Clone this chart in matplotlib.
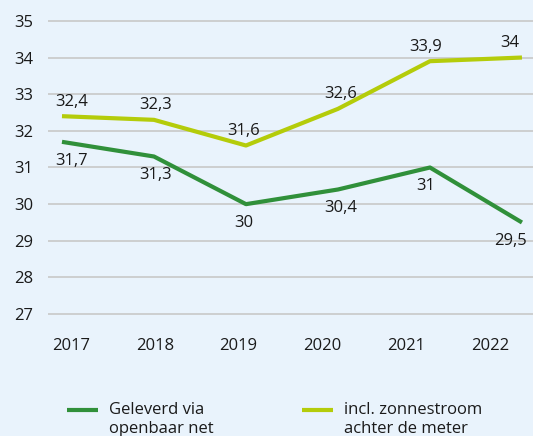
import matplotlib
matplotlib.use("Agg")
import matplotlib.pyplot as plt
from matplotlib.legend_handler import HandlerLine2D

years = [2017, 2018, 2019, 2020, 2021, 2022]
geleverd = [31.7, 31.3, 30.0, 30.4, 31.0, 29.5]
incl_zon = [32.4, 32.3, 31.6, 32.6, 33.9, 34.0]
geleverd_labels = ["31,7", "31,3", "30", "30,4", "31", "29,5"]
incl_labels = ["32,4", "32,3", "31,6", "32,6", "33,9", "34"]
yticks = [27, 28, 29, 30, 31, 32, 33, 34, 35]
series_names = ["Geleverd via\nopenbaar net", "incl. zonnestroom\nachter de meter"]

plt.rcParams['font.family'] = ['Open Sans', 'DejaVu Sans']
bg = '#e9f3fc'
c_green = '#30903a'
c_lime = '#b4cc0a'
txt = '#1a1a1a'
FS = 12

# horizontal label nudges (points) for the value labels
label_dx = [7, 1, -1.5, 2, -3, -8.5]


class TopLineHandler(HandlerLine2D):
    """Legend line aligned with the first text line."""
    def create_artists(self, legend, orig_handle, xdescent, ydescent,
                       width, height, fontsize, trans):
        arts = super().create_artists(legend, orig_handle, xdescent, ydescent,
                                      width, height, fontsize, trans)
        for a in arts:
            a.set_ydata([y + fontsize * 0.58 for y in a.get_ydata()])
        return arts


fig = plt.figure(figsize=(5.33, 4.36), dpi=100, facecolor=bg)
rect = [48/533, 116/436, 485/533, 305/436]
ax = fig.add_axes(rect, facecolor=bg)

l1, = ax.plot(years, geleverd, color=c_green, lw=3, solid_capstyle='butt', zorder=3)
l2, = ax.plot(years, incl_zon, color=c_lime, lw=3, solid_capstyle='butt', zorder=3)

for i, (x, y, t) in enumerate(zip(years, geleverd, geleverd_labels)):
    ax.annotate(t, (x, y), xytext=(label_dx[i], -13.5), textcoords='offset points',
                ha='center', va='center', fontsize=FS, color=txt)
for i, (x, y, t) in enumerate(zip(years, incl_zon, incl_labels)):
    ax.annotate(t, (x, y), xytext=(label_dx[i], 10.5), textcoords='offset points',
                ha='center', va='center', fontsize=FS, color=txt)

ax.set_xlim(2016.848, 2022.12)
ax.set_ylim(26.84, 35.16)
ax.set_yticks(yticks)
ax.set_xticks([])
ax.yaxis.grid(True, color='#c8c8c8', lw=1.2)
ax.set_axisbelow(True)
for s in ax.spines.values():
    s.set_visible(False)
ax.tick_params(axis='y', length=0, labelsize=FS, colors=txt, pad=10.5)

# category labels row (evenly spaced, independent of point positions as in reference)
lab = fig.add_axes(rect, frameon=False)
lab.patch.set_alpha(0)
lab.set_xlim(-0.2745, 5.513)
lab.set_xticks(range(len(years)))
lab.set_xticklabels([str(y) for y in years])
lab.set_yticks([])
lab.tick_params(axis='x', length=0, labelsize=FS, colors=txt, pad=13)

leg = fig.legend([l1, l2], series_names, loc='upper left',
                 bbox_to_anchor=(67/533, 1 - 402/436),
                 ncol=2, frameon=False, fontsize=FS, handlelength=1.86,
                 columnspacing=5.3, handletextpad=0.66, labelspacing=0.2,
                 borderpad=0, borderaxespad=0,
                 handler_map={l1: TopLineHandler(), l2: TopLineHandler()})
for t in leg.get_texts():
    t.set_linespacing(1.22)
    t.set_color(txt)

fig.savefig('out.png', dpi=100, facecolor=bg)
